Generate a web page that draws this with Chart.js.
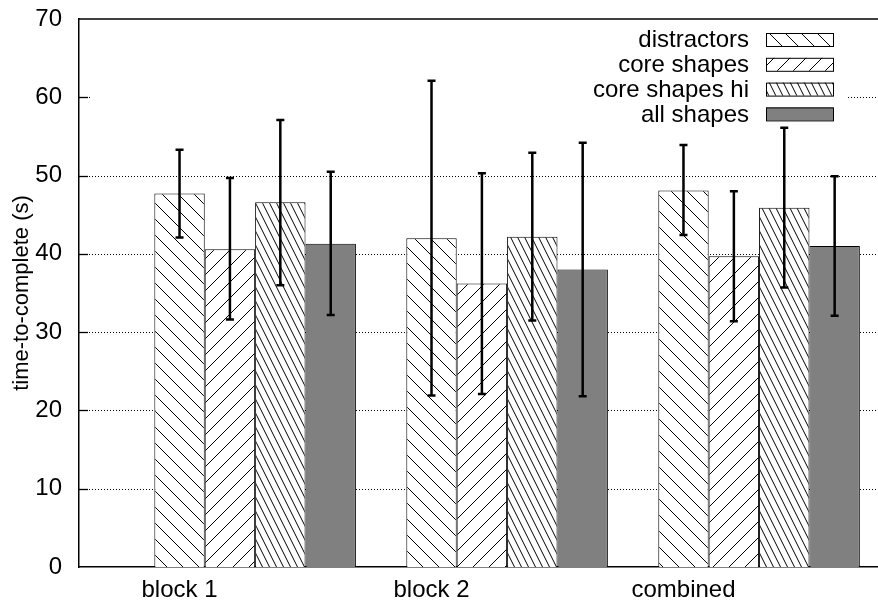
<!DOCTYPE html>
<html>
<head>
<meta charset="utf-8">
<script src="https://cdn.jsdelivr.net/npm/chart.js@4.4.1/dist/chart.umd.min.js"></script>
<style>
  html, body { margin: 0; padding: 0; background: #fff; }
  #wrap { width: 878px; height: 612px; }
</style>
</head>
<body>
<div id="wrap"><canvas id="chart" width="878" height="612"></canvas></div>
<script>
// data
const categories = ['block 1', 'block 2', 'combined'];
const seriesNames = ['distractors', 'core shapes', 'core shapes hi', 'all shapes'];

const distractors = [47.7, 42.0, 48.1];
const coreShapes = [40.6, 36.2, 39.7];
const coreShapesHi = [46.6, 42.2, 45.9];
const allShapes = [41.3, 38.0, 41.0];

const distractorsLow = [42.1, 21.9, 42.4];
const distractorsHigh = [53.3, 62.1, 53.9];
const coreShapesLow = [31.6, 22.1, 31.4];
const coreShapesHigh = [49.7, 50.3, 48.0];
const coreShapesHiLow = [36.0, 31.5, 35.7];
const coreShapesHiHigh = [57.1, 52.9, 56.1];
const allShapesLow = [32.2, 21.8, 32.1];
const allShapesHigh = [50.5, 54.2, 49.9];

const yTicks = [0, 10, 20, 30, 40, 50, 60, 70];

const FONT = '"Liberation Sans", Arial, Helvetica, sans-serif';

// hatch tiles, gnuplot-like
function hatch(period, rise, back) {
    const c = document.createElement('canvas');
    c.width = period;
    c.height = period * rise;
    const g = c.getContext('2d');
    g.fillStyle = '#fff';
    g.fillRect(0, 0, c.width, c.height);
    g.strokeStyle = '#000';
    g.lineWidth = 1;
    for (let k = -1; k <= 1; k++) {
        g.beginPath();
        if (back) {
            g.moveTo(k * period, 0);
            g.lineTo((k + 1) * period, c.height);
        } else {
            g.moveTo(k * period, c.height);
            g.lineTo((k + 1) * period, 0);
        }
        g.stroke();
    }
    return g.createPattern(c, 'repeat');
}

const fills = [hatch(16, 1, true), hatch(16, 1, false), hatch(7, 2, true), '#808080'];
const values = [distractors, coreShapes, coreShapesHi, allShapes];
const lows = [distractorsLow, coreShapesLow, coreShapesHiLow, allShapesLow];
const highs = [distractorsHigh, coreShapesHigh, coreShapesHiHigh, allShapesHigh];

const datasets = seriesNames.map((name, s) => ({
    label: name,
    data: values[s].map((v, i) => ({ x: i, y: v })),
    backgroundColor: fills[s],
    borderColor: '#000',
    borderWidth: 1,
    categoryPercentage: 0.8,
    barPercentage: 1.0
}));

// dotted grid, inward ticks, top border and the opaque key background
const gridPlugin = {
    id: 'gnuGrid',
    beforeDatasetsDraw(chart) {
        const { ctx, chartArea } = chart;
        const y = chart.scales.y;
        ctx.save();
        ctx.strokeStyle = '#000';
        ctx.lineWidth = 1;
        ctx.setLineDash([1, 2]);
        yTicks.slice(1, -1).forEach(t => {
            const py = Math.round(y.getPixelForValue(t)) + 0.5;
            ctx.beginPath();
            ctx.moveTo(chartArea.left + 10, py);
            ctx.lineTo(chartArea.right, py);
            ctx.stroke();
        });
        ctx.setLineDash([]);
        // key background
        ctx.fillStyle = '#fff';
        ctx.fillRect(chartArea.left + 11, chartArea.top + 2, chartArea.right - 32 - chartArea.left - 11, 106);
        // inward ticks
        ctx.lineWidth = 1.3;
        yTicks.slice(1, -1).forEach(t => {
            const py = Math.round(y.getPixelForValue(t)) + 0.5;
            ctx.beginPath();
            ctx.moveTo(chartArea.left, py);
            ctx.lineTo(chartArea.left + 9, py);
            ctx.stroke();
        });
        // top border
        ctx.lineWidth = 1.5;
        ctx.beginPath();
        ctx.moveTo(chartArea.left, chartArea.top);
        ctx.lineTo(chartArea.right, chartArea.top);
        ctx.stroke();
        ctx.restore();
    }
};

// error bars and key
const errorPlugin = {
    id: 'errBars',
    afterDatasetsDraw(chart) {
        const { ctx, chartArea } = chart;
        const y = chart.scales.y;
        ctx.save();
        ctx.strokeStyle = '#000';
        ctx.lineWidth = 2.5;
        chart.data.datasets.forEach((ds, s) => {
            const meta = chart.getDatasetMeta(s);
            meta.data.forEach((bar, i) => {
                const yl = y.getPixelForValue(lows[s][i]);
                const yh = y.getPixelForValue(highs[s][i]);
                ctx.beginPath();
                ctx.moveTo(bar.x, yl);
                ctx.lineTo(bar.x, yh);
                ctx.moveTo(bar.x - 4, yl);
                ctx.lineTo(bar.x + 4, yl);
                ctx.moveTo(bar.x - 4, yh);
                ctx.lineTo(bar.x + 4, yh);
                ctx.stroke();
            });
        });

        // key
        ctx.font = '24px ' + FONT;
        ctx.textAlign = 'right';
        ctx.textBaseline = 'middle';
        chart.data.datasets.forEach((ds, s) => {
            const cy = chartArea.top + 20.5 + s * 24.8;
            ctx.fillStyle = '#000';
            ctx.fillText(ds.label, chartArea.right - 129, cy + 1);
            ctx.fillStyle = ds.backgroundColor;
            ctx.fillRect(chartArea.right - 112, cy - 6.5, 67, 13);
            ctx.lineWidth = 1;
            ctx.strokeRect(chartArea.right - 112 + 0.5, cy - 6.5 + 0.5, 67, 13);
        });
        ctx.restore();
    }
};

new Chart(document.getElementById('chart'), {
    type: 'bar',
    data: { datasets: datasets },
    plugins: [gridPlugin, errorPlugin],
    options: {
        responsive: false,
        animation: false,
        layout: { padding: { top: 19, right: 0, bottom: 0, left: 0 } },
        plugins: {
            legend: { display: false },
            tooltip: { enabled: false }
        },
        scales: {
            x: {
                type: 'linear',
                min: -0.699,
                max: 2.472,
                offset: false,
                grid: { display: false, offset: false, drawTicks: false },
                border: { display: true, color: '#000', width: 1.5 },
                afterBuildTicks: axis => {
                    axis.ticks = categories.map((c, i) => ({ value: i - 0.3 }));
                },
                afterFit: scale => {
                    scale.height = 45;
                    scale.paddingLeft = 0;
                    scale.paddingRight = 0;
                },
                ticks: {
                    autoSkip: false,
                    maxRotation: 0,
                    padding: 9,
                    color: '#000',
                    font: { family: FONT, size: 24 },
                    callback: (v, idx) => categories[idx]
                }
            },
            y: {
                min: 0,
                max: 70,
                grid: { display: false, drawTicks: false, tickLength: 0 },
                border: { display: true, color: '#000', width: 1.5 },
                afterFit: scale => {
                    scale.width = 79;
                    scale.paddingTop = 0;
                    scale.paddingBottom = 0;
                },
                ticks: {
                    stepSize: 10,
                    padding: 17,
                    color: '#000',
                    font: { family: FONT, size: 24 }
                },
                title: {
                    display: true,
                    text: 'time-to-complete (s)',
                    color: '#000',
                    font: { family: FONT, size: 22 },
                    padding: { top: 9, bottom: 0 }
                }
            }
        }
    }
});
</script>
</body>
</html>
